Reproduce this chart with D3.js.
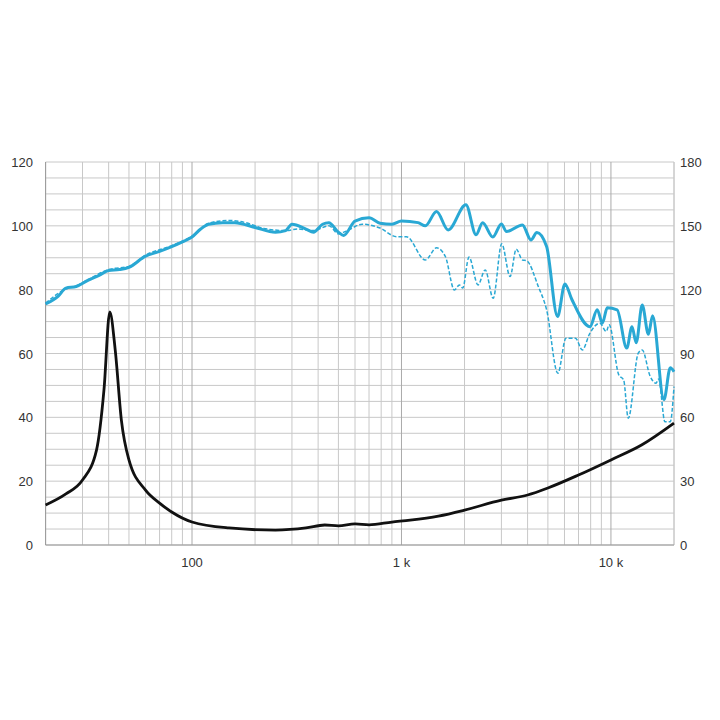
<!DOCTYPE html><html><head><meta charset="utf-8"><script src="https://cdn.jsdelivr.net/npm/d3@7"></script>
<style>body{margin:0;background:#fff}text{font-family:Arial,"Liberation Sans",sans-serif;font-size:13px;fill:#333}</style></head><body><svg id="c" width="720" height="720"></svg><script>
const splFreq=[20,23,25,28,32,36,40,45,50,60,70,80,90,100,110,120,140,160,200,250,280,300,350,380,420,450,500,530,600,700,790,900,1000,1200,1300,1470,1670,2030,2270,2440,2730,3000,3170,3780,4150,4430,4930,5560,6030,6500,7940,8600,9100,9600,10700,11900,12600,13200,14100,15100,15800,17900,19200,20000];
const splVal=[75.5,78,80.5,81,83,84.5,86,86.3,87,90.5,92,93.5,95,96.5,99,100.5,101,101,99.5,98,98.5,100.5,99,98,100.5,101,98,97,101.5,102.5,100.8,100.5,101.5,101,100,104.5,98.7,106.6,97.2,101,96.5,100.6,98.2,100.3,95.6,97.9,93.5,71.6,81.8,77,68.4,73.7,69.5,74.3,73.7,61.7,68.4,63.4,75.2,66,71.8,45.5,55.5,54.3];
const offFreq=[20,25,28,32,40,50,60,80,100,120,150,180,220,280,320,380,450,500,550,650,790,948,1055,1300,1470,1620,1790,1890,1960,2100,2320,2510,2740,3010,3300,3530,3780,3950,4500,4930,5580,6100,6770,7300,7940,8850,9500,9800,10900,11500,12100,13500,14100,15400,16400,16900,18100,19200,20000];
const offVal=[75.8,80.2,81.2,83.2,86.3,87.3,90.8,93.8,96.8,100.8,101.7,101,99.2,98.5,99,98.5,100,97.5,98.5,100.5,99.3,96.6,96.6,89.3,93.1,90.4,79.9,81.5,80.5,90.2,81.5,86.2,77.3,94.4,84.1,92.7,89.3,89.1,81,73.7,53.8,64.8,64.8,61.1,66.4,69.5,66.9,69,53.3,51.7,39.7,60.1,61.1,52.8,50.7,52,38.6,38.6,49.6];
const impFreq=[20,25,30,35,38,40.5,43,46,50,60,70,80,100,150,250,350,430,500,600,700,900,1100,1500,2000,3000,4000,5000,7000,10000,14000,20000];
const impVal=[18.8,24,30.5,44.6,73,109.5,91.6,58.7,40,25.8,19.7,15.5,10.8,8,7,8,9.4,9,9.9,9.5,10.8,11.7,13.6,16.4,21.1,23.5,26.8,32.9,40,47,57.3];
const leftTicks=[0,20,40,60,80,100,120],rightTicks=[0,30,60,90,120,150,180];
const xLabels=[[100,"100"],[1000,"1 k"],[10000,"10 k"]];
const svg=d3.select("#c"),L=45.6,R=674,T=162,B=545;
const x=d3.scaleLog().domain([20,20000]).range([L,R]);
const y=d3.scaleLinear().domain([0,120]).range([B,T]);
const y2=d3.scaleLinear().domain([0,180]).range([B,T]);
const g=svg.append("g");
for(let v=0;v<=120;v+=5)g.append("line").attr("x1",L).attr("x2",R).attr("y1",y(v)).attr("y2",y(v)).attr("stroke","#c8c8c8").attr("stroke-width",1);
const vf=[];[10,100,1000,10000].forEach(d=>{for(let k=1;k<10;k++){const f=d*k;if(f>=20&&f<=20000)vf.push(f);}});vf.push(20000);
vf.forEach(f=>g.append("line").attr("x1",x(f)).attr("x2",x(f)).attr("y1",T).attr("y2",B).attr("stroke",[100,1000,10000].includes(f)?"#aaa":"#c8c8c8"));
g.append("line").attr("x1",L).attr("x2",L).attr("y1",T).attr("y2",B).attr("stroke","#999");
g.append("line").attr("x1",L).attr("x2",R).attr("y1",B).attr("y2",B).attr("stroke","#999");
leftTicks.forEach(v=>svg.append("text").attr("x",33).attr("y",y(v)+5).attr("text-anchor","end").text(v));
rightTicks.forEach(v=>svg.append("text").attr("x",680).attr("y",y2(v)+5).text(v));
xLabels.forEach(([f,t])=>svg.append("text").attr("x",x(f)).attr("y",567).attr("text-anchor","middle").text(t));
const line=(ys)=>d3.line().x(d=>x(d[0])).y(d=>ys(d[1])).curve(d3.curveMonotoneX);
svg.append("path").attr("d",line(y)(d3.zip(offFreq,offVal))).attr("fill","none").attr("stroke","#29a8d4").attr("stroke-width",1.5).attr("stroke-dasharray","4,2");
svg.append("path").attr("d",line(y)(d3.zip(splFreq,splVal))).attr("fill","none").attr("stroke","#29a8d4").attr("stroke-width",3);
svg.append("path").attr("d",line(y2)(d3.zip(impFreq,impVal))).attr("fill","none").attr("stroke","#111").attr("stroke-width",2.8);
</script></body></html>
